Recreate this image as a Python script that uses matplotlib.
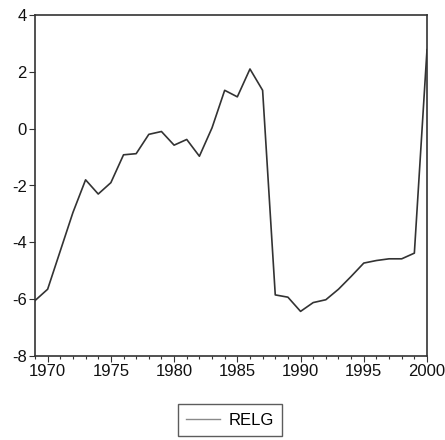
import matplotlib
matplotlib.use("Agg")
import matplotlib.pyplot as plt
from matplotlib.ticker import MultipleLocator
from matplotlib.lines import Line2D

years = list(range(1969, 2001))
relg = [-6.05, -5.65, -4.3, -2.95, -1.8, -2.3, -1.9, -0.92, -0.88, -0.2, -0.1,
        -0.58, -0.38, -0.97, 0.03, 1.35, 1.12, 2.1, 1.35, -5.85, -5.93, -6.43,
        -6.12, -6.02, -5.65, -5.2, -4.73, -4.64, -4.58, -4.58, -4.38, 2.78]

plt.rcParams['font.family'] = ['Liberation Sans', 'DejaVu Sans']
plt.rcParams['axes.unicode_minus'] = False

fig = plt.figure(figsize=(4.45, 4.4), dpi=100)
ax = fig.add_axes([35/445, 1-356/440, (427-35)/445, (356-15)/440])
ax.plot(years, relg, color='#333333', lw=1.2)
ax.set_xlim(1969, 2000)
ax.set_ylim(-8, 4)
ax.set_yticks([-8, -6, -4, -2, 0, 2, 4])
ax.set_xticks([1970, 1975, 1980, 1985, 1990, 1995, 2000])
ax.xaxis.set_minor_locator(MultipleLocator(1))
ax.tick_params(axis='both', which='major', labelsize=12, length=4, width=0.8,
               color='#333333', labelcolor='#111111', pad=2)
ax.tick_params(axis='x', which='minor', length=2.5, width=0.8, color='#333333')
for s in ax.spines.values():
    s.set_linewidth(1.2)
    s.set_color('#333333')

h = Line2D([0], [0], color='#8a8a8a', lw=1.0)
leg = fig.legend([h], ['RELG'], loc='center', bbox_to_anchor=(230/445, 1-420/440),
                 frameon=True, fancybox=False, fontsize=12, handlelength=2.0,
                 borderpad=0.5, handletextpad=0.5)
leg.get_frame().set_edgecolor('#333333')
leg.get_frame().set_linewidth(1.0)

fig.savefig('out.png', dpi=100)
